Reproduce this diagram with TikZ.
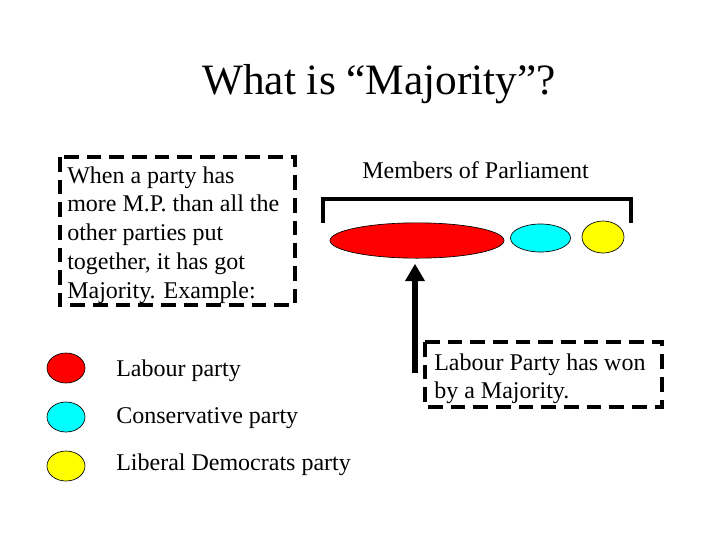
\documentclass[tikz,border=0pt]{standalone}
\usepackage{fontspec}
\setmainfont{Liberation Serif}
\usetikzlibrary{shapes.geometric}
\definecolor{mpred}{RGB}{255,0,0}
\definecolor{mpcyan}{RGB}{0,255,255}
\definecolor{mpyellow}{RGB}{255,255,0}
\begin{document}
\begin{tikzpicture}[x=0.75pt,y=-0.75pt,
  dashbox/.style={draw=black,line width=3pt,dash pattern=on 11pt off 6pt},
  body/.style={font=\fontsize{18pt}{21.4pt}\selectfont,inner sep=0pt},
  mp/.style={ellipse,draw=black,line width=0.5pt,inner sep=0pt},
  legdot/.style={mp,minimum width=28.5pt,minimum height=22.5pt}]
\useasboundingbox (0,0) rectangle (720,540);
\fill[white] (0,0) rectangle (720,540);
% title
\node[anchor=base west,inner sep=0pt,font=\fontsize{32.5pt}{38pt}\selectfont] (title) at (202,94) {What is “Majority”?};
% left dashed box
\draw[dashbox] (59.5,157) rectangle (295,305);
\node[body,anchor=base west] (def) at (67,183)
  {\begin{tabular}[t]{@{}l@{}}When a party has\\[0.2pt] more M.P. than all the\\[0.2pt] other parties put\\[0.2pt] together, it has got\\[0.2pt] Majority. Example:\end{tabular}};
% members of parliament
\node[body,anchor=base west] (mplabel) at (362,178) {Members of Parliament};
\coordinate (bl) at (323,223);
\coordinate (br) at (631,223);
\draw[line width=3.5pt] (bl) -- (323,199) -- (631,199) -- (br);
\node[mp,fill=mpred,minimum width=130.5pt,minimum height=26.5pt] (lab) at (417,240.5) {};
\node[mp,fill=mpcyan,minimum width=45pt,minimum height=21pt] (con) at (540.5,238) {};
\node[mp,fill=mpyellow,minimum width=31.5pt,minimum height=24pt] (lib) at (603,237) {};
% right dashed box
\draw[dashbox] (425,342) rectangle (662,407);
\node[body,anchor=base west] (won) at (434,370)
  {\begin{tabular}[t]{@{}l@{}}Labour Party has won\\[0.2pt] by a Majority.\end{tabular}};
\coordinate (arrbase) at (415,373);
\draw[line width=5pt] (arrbase) -- (415,275);
\fill[black] (405,281) -- (415,264) -- (425,281) -- cycle;
% legend
\node[legdot,fill=mpred] (l1) at (66,368) {};
\node[legdot,fill=mpcyan] (l2) at (66,417) {};
\node[legdot,fill=mpyellow] (l3) at (66,466) {};
\node[body,anchor=base west] (t1) at (116,376) {Labour party};
\node[body,anchor=base west] (t2) at (116,423) {Conservative party};
\node[body,anchor=base west] (t3) at (116,470) {Liberal Democrats party};
\end{tikzpicture}
\end{document}
